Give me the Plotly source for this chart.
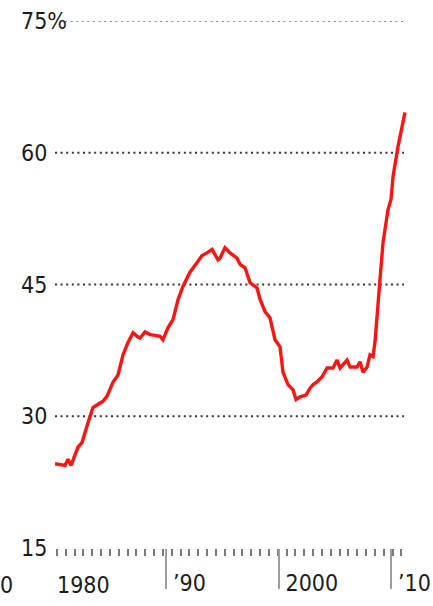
import plotly.graph_objects as go

# Share (%) over time, decimal years
years = [1980.13, 1980.58, 1981.02, 1981.29, 1981.56, 1981.91, 1982.18, 1982.53, 1982.80, 1983.07,
         1983.51, 1983.96, 1984.40, 1984.76, 1985.29, 1985.73, 1986.18, 1986.62, 1987.07, 1987.42,
         1987.69, 1988.13, 1988.58, 1989.02, 1989.47, 1989.73, 1990.18, 1990.62, 1991.07, 1991.51,
         1992.13, 1992.76, 1993.20, 1993.64, 1994.09, 1994.62, 1994.80, 1995.24, 1995.69, 1996.31,
         1996.58, 1997.02, 1997.47, 1998.09, 1998.36, 1998.80, 1999.24, 1999.69, 2000.13, 2000.40,
         2000.84, 2001.29, 2001.56, 2001.91, 2002.44, 2002.80, 2003.07, 2003.42, 2003.87, 2004.31,
         2004.84, 2005.20, 2005.47, 2006.09, 2006.36, 2006.98, 2007.24, 2007.51, 2007.87, 2008.13,
         2008.40, 2008.58, 2008.76, 2009.02, 2009.29, 2009.73, 2010.00, 2010.18, 2010.62, 2010.98,
         2011.24]
share = [24.6, 24.5, 24.4, 25.1, 24.4, 25.6, 26.5, 27.0, 28.3, 29.3,
         31.0, 31.3, 31.7, 32.3, 33.9, 34.7, 37.0, 38.4, 39.5, 39.1,
         38.9, 39.6, 39.3, 39.2, 39.1, 38.7, 40.1, 41.0, 43.3, 44.8,
         46.4, 47.5, 48.3, 48.6, 49.0, 47.8, 48.0, 49.2, 48.6, 48.0,
         47.3, 46.9, 45.2, 44.6, 43.3, 41.9, 41.2, 38.7, 37.9, 35.0,
         33.6, 33.0, 31.9, 32.2, 32.4, 33.2, 33.6, 33.9, 34.5, 35.5,
         35.5, 36.4, 35.5, 36.4, 35.6, 35.6, 36.2, 35.0, 35.6, 37.0,
         36.8, 38.5, 41.0, 45.6, 49.8, 53.5, 54.7, 57.3, 60.7, 63.0,
         64.6]

y_ticks = [15, 30, 45, 60, 75]
y_tick_text = ["15", "30", "45", "60", "75%"]
grid_levels = [30, 45, 60, 75]
x_ticks = [1990, 2000, 2010]
x_tick_text = ["\u201990", "2000", "\u201910"]

FONT = "DejaVu Sans Condensed, Liberation Sans Narrow, sans-serif"
FS = 23
INK = "#1c1c1c"
W, H = 433, 606
plot_left, plot_right = 55, 407
span = plot_right - plot_left

fig = go.Figure()
fig.add_trace(go.Scatter(
    x=years, y=share, mode="lines",
    line=dict(color="#ff1414", width=3.4),
    hoverinfo="skip", showlegend=False,
))

# dotted gridlines
for lv in grid_levels:
    x0 = (65 - plot_left) / span if lv == 75 else 0
    fig.add_shape(type="line", xref="x domain", yref="y",
                  x0=x0, x1=(404 - plot_left) / span, y0=lv, y1=lv,
                  line=dict(color="#8c8c8c" if lv == 75 else "#333333", width=2, dash="2px,3.6px"),
                  layer="below")

fig.add_annotation(text="1980", xref="x", yref="paper", x=years[0], y=0,
                   xanchor="left", yanchor="top", yshift=-22, showarrow=False,
                   font=dict(family=FONT, size=FS, color=INK))
fig.add_annotation(text="0", xref="x domain", yref="paper", x=-plot_left / span,
                   y=0, xanchor="left", yanchor="top", yshift=-22, xshift=-2, showarrow=False,
                   font=dict(family=FONT, size=FS, color=INK))

fig.update_layout(
    width=W, height=H,
    margin=dict(l=0, r=0, t=21, b=58, pad=0, autoexpand=False),
    paper_bgcolor="white", plot_bgcolor="white",
    font=dict(family=FONT, size=FS, color=INK),
    xaxis=dict(
        domain=[plot_left / W, plot_right / W],
        range=[1980.13, 1980.13 + span / 11.25],
        showgrid=False, zeroline=False, showline=False,
        tickvals=x_ticks, ticktext=x_tick_text,
        ticks="outside", ticklen=40, tickwidth=2, tickcolor="#9c9c9c",
        ticklabelposition="outside right", ticklabelstandoff=14, ticklabelshift=6,
        minor=dict(tick0=1980.3, dtick=0.785, ticks="outside", ticklen=7,
                   tickwidth=1.5, tickcolor="#7a7a7a", showgrid=False),
        tickfont=dict(family=FONT, size=FS, color=INK),
    ),
    yaxis=dict(
        anchor="free", position=20 / W, side="right",
        range=[15, 75],
        showgrid=False, zeroline=False, showline=False,
        tickvals=y_ticks, ticktext=y_tick_text,
        ticks="", ticklabelposition="outside",
        tickfont=dict(family=FONT, size=FS, color=INK),
    ),
)

fig.write_html("out.html")
